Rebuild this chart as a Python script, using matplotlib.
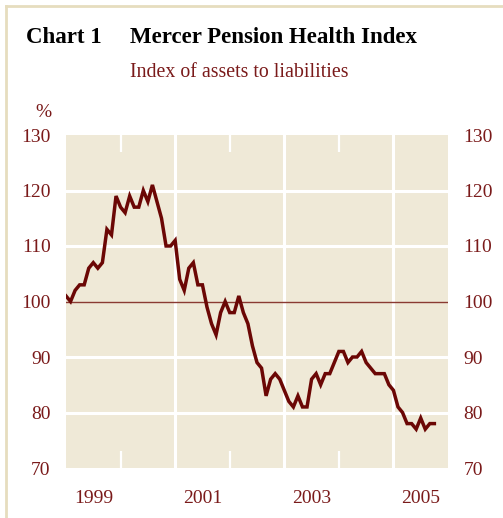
import numpy as np
import matplotlib
matplotlib.use("Agg")
import matplotlib.pyplot as plt
from matplotlib.lines import Line2D

# Mercer Pension Health Index, monthly, Jan 1999 - Oct 2005
start_year = 1999
index_values = [
    101, 100, 102, 103, 103, 106, 107, 106, 107, 113, 112, 119,   # 1999
    117, 116, 119, 117, 117, 120, 118, 121, 118, 115, 110, 110,   # 2000
    111, 104, 102, 106, 107, 103, 103, 99, 96, 94, 98, 100,       # 2001
    98, 98, 101, 98, 96, 92, 89, 88, 83, 86, 87, 86,              # 2002
    84, 82, 81, 83, 81, 81, 86, 87, 85, 87, 87, 89,               # 2003
    91, 91, 89, 90, 90, 91, 89, 88, 87, 87, 87, 85,               # 2004
    84, 81, 80, 78, 78, 77, 79, 77, 78, 78,                       # 2005
]
y_ticks = [70, 80, 90, 100, 110, 120, 130]
y_grid = [80, 90, 110, 120]
x_labels = ["1999", "2001", "2003", "2005"]
x_label_pos = [1999.5, 2001.5, 2003.5, 2005.5]
x_grid = [2001, 2003, 2005]
x_minor = [2000, 2002, 2004]

months = start_year + np.arange(len(index_values)) / 12.0

bg = "#EFE9D7"
dark_red = "#6B0705"
label_red = "#7A1A1A"
serif = ["Liberation Serif", "DejaVu Serif"]

plt.rcParams['font.family'] = serif

fig = plt.figure(figsize=(5.03, 5.18), dpi=100)
ax = fig.add_axes([66 / 503, 1 - 468 / 518, 382 / 503, 333 / 518])
ax.set_facecolor(bg)

for v in y_grid:
    ax.axhline(v, color="white", lw=2.2, zorder=1)
for v in x_grid:
    ax.axvline(v, color="white", lw=2.2, zorder=1)
ax.axhline(100, color="#8A3A32", lw=1.0, zorder=2)

ax.plot(months, index_values, color=dark_red, lw=2.5, zorder=3,
        solid_joinstyle="miter")

ax.set_xlim(1999, 2006)
ax.set_ylim(70, 130)
for s in ax.spines.values():
    s.set_visible(False)

ax.set_yticks(y_ticks)
ax.set_yticklabels([str(v) for v in y_ticks])
ax.tick_params(axis="y", length=0, labelsize=14, labelcolor=label_red,
               left=False, right=False, labelleft=True, labelright=True, pad=11)

ax.set_xticks(x_label_pos)
ax.set_xticklabels(x_labels)
ax.tick_params(axis="x", which="major", length=0, labelsize=14,
               labelcolor=label_red, pad=16)
ax.set_xticks(x_minor, minor=True)
ax.tick_params(axis="x", which="minor", direction="in", length=12.5,
               width=1.6, color="white", top=True, bottom=True)

fig.text(26 / 503, 1 - 43 / 518, "Chart 1", fontsize=16.5, fontweight="bold",
         color="black", va="baseline")
fig.text(130 / 503, 1 - 43 / 518, "Mercer Pension Health Index", fontsize=16.5,
         fontweight="bold", color="black", va="baseline")
fig.text(130 / 503, 1 - 77 / 518, "Index of assets to liabilities",
         fontsize=14.3, color=label_red, va="baseline")
fig.text(35 / 503, 1 - 117 / 518, "%", fontsize=14, color=label_red,
         va="baseline")

# frame around the chart
fig.add_artist(Line2D([6 / 503, 6 / 503], [0, 1 - 6 / 518],
                      transform=fig.transFigure, color="#E6DDBE", lw=2))
fig.add_artist(Line2D([6 / 503, 1], [1 - 6 / 518, 1 - 6 / 518],
                      transform=fig.transFigure, color="#E6DDBE", lw=2))

fig.savefig("out.png", dpi=100)
